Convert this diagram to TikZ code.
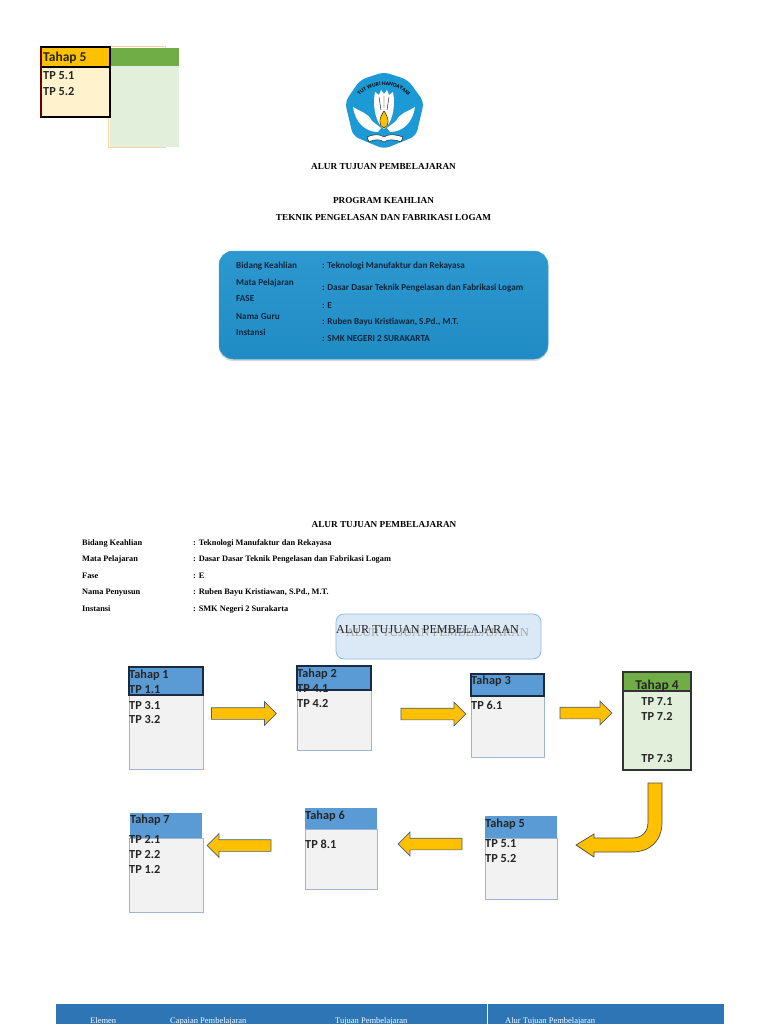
\documentclass[tikz,border=0pt]{standalone}
\usepackage{fontspec}
\setmainfont{Carlito}
\newfontfamily\serifface{Liberation Serif}
\usetikzlibrary{shapes.arrows,shadows,decorations.text}
\definecolor{headblue}{HTML}{5B9BD5}
\definecolor{headnavy}{HTML}{1B2A41}
\definecolor{bodygrey}{HTML}{F2F2F2}
\definecolor{bodyedge}{HTML}{9DB5D3}
\definecolor{headgreen}{HTML}{70AD47}
\definecolor{bodygreen}{HTML}{E2EFDA}
\definecolor{headgold}{HTML}{FFC000}
\definecolor{bodygold}{HTML}{FFF2CC}
\definecolor{arrowedge}{HTML}{4A5F7E}
\definecolor{panelblue}{HTML}{2293CE}
\definecolor{paneltext}{HTML}{10253A}
\definecolor{footblue}{HTML}{2E75B6}
\definecolor{logoblue}{HTML}{1C9AD6}
\begin{document}
\begin{tikzpicture}[x=1pt,y=-1pt, size/.style 2 args={minimum width=#1pt,minimum height=#2pt,inner sep=0pt,outer sep=0pt}, body/.style={draw=bodyedge,fill=bodygrey,line width=.9pt}, head/.style={fill=headblue}, headline/.style={head,draw=headnavy,line width=1.5pt}, tp/.style={anchor=west,inner sep=0pt,yshift=-.8pt,text height=10pt,text depth=2.2pt,font=\fontsize{12.3}{14}\selectfont\bfseries,text=black!85}, bigtp/.style={tp,font=\fontsize{13.5}{15}\selectfont\bfseries}, blockarrow/.style={single arrow,draw=arrowedge,fill=headgold,line width=.7pt,minimum width=23pt,single arrow head extend=6pt,inner xsep=0pt,inner ysep=5.5pt,outer sep=0pt}, title/.style={inner sep=0pt,yshift=-.8pt,font=\fontsize{9.2}{11}\selectfont\serifface\bfseries}, info/.style={anchor=west,inner sep=0pt,yshift=-.8pt,text height=7.5pt,text depth=2pt,font=\fontsize{8.33}{10}\selectfont\serifface\bfseries}, paneltxt/.style={anchor=west,inner sep=0pt,yshift=-.8pt,text height=8pt,text depth=2.2pt,text=paneltext,font=\fontsize{9.15}{11}\selectfont\bfseries}, foot/.style={anchor=west,inner sep=0pt,text=white,font=\fontsize{8.5}{10}\selectfont\serifface}]
\useasboundingbox (0,0) rectangle (768,1024);
% top left tables
\node[size={57}{101},draw=orange!35,line width=.7pt,anchor=north west] (back) at (108,46) {};
\node[size={69}{81},fill=bodygreen,anchor=north west] (greenbody) at (110,66) {};
\node[size={69}{18},fill=headgreen,anchor=north west] (greenhead) at (110,48) {};
\node[size={69}{50},fill=bodygold,draw=black,line width=1.5pt,anchor=north west] (goldbody) at (41,67) {};
\node[size={69}{20},fill=headgold,draw=black,line width=1.5pt,anchor=north west] (goldhead) at (41,47) {};
\draw[red!40!black,line width=1.5pt] (goldhead.north west) -- (goldbody.south west);
\node[bigtp] (goldtitle) at (43,57) {Tahap 5};
\node[tp] (gold1) at (43,75) {TP 5.1};
\node[tp] (gold2) at (43,91) {TP 5.2};
% logo
\fill[logoblue,rounded corners=6pt] (384,72) -- (408,80) -- (424,102) -- (416,136) -- (384,149) -- (353,136) -- (345,102) -- (360,80) -- cycle;
\fill[white] (384,129) .. controls (376,124) and (372,106) .. (375,92) -- (379,95) -- (381,90) -- (384,94) -- (387,90) -- (389,95) -- (393,92) .. controls (396,106) and (392,124) .. (384,129) -- cycle;
\fill[white] (353,107) .. controls (361,112) and (368,113) .. (372,121) -- (381,128) -- (378,132) .. controls (365,132) and (355,122) .. (353,107) -- cycle;
\fill[white] (415,107) .. controls (407,112) and (400,113) .. (396,121) -- (387,128) -- (390,132) .. controls (403,132) and (413,122) .. (415,107) -- cycle;
\draw[black,line width=.4pt] (384,96) -- (384,108) (379,97) -- (381,110) (389,97) -- (387,110);
\fill[headgold,draw=black,line width=.4pt] (384,111) .. controls (389,118) and (390,126) .. (384,128) .. controls (378,126) and (379,118) .. (384,111) -- cycle;
\fill[white,draw=black,line width=.4pt] (367,137) .. controls (374,134) and (380,134) .. (384,137) .. controls (388,134) and (394,134) .. (403,137) -- (401,142) .. controls (394,139) and (388,139) .. (384,142) .. controls (380,139) and (374,139) .. (369,142) -- cycle;
\path[decorate,decoration={text along path,text align=center,text={|\fontsize{5.6}{7}\selectfont\bfseries|TUT WURI HANDAYANI}}] (354,105) .. controls (364,79) and (404,79) .. (414,105);
% headings
\node[title] (maintitle) at (383.5,166) {ALUR TUJUAN PEMBELAJARAN};
\node[title] (program) at (383.5,200) {PROGRAM KEAHLIAN};
\node[title] (major) at (383.5,217) {TEKNIK PENGELASAN DAN FABRIKASI LOGAM};
% blue panel
\node[size={329}{108},rounded corners=14pt,top color=panelblue!95!white,bottom color=panelblue!95!black,draw=panelblue!90!white,line width=.5pt,drop shadow={opacity=.3,shadow xshift=0pt,shadow yshift=-2pt}] (panel) at (383.5,305) {};
\node[paneltxt] (p1) at (236,265) {Bidang Keahlian};
\node[paneltxt] (p2) at (236,282) {Mata Pelajaran};
\node[paneltxt] (p3) at (236,298) {FASE};
\node[paneltxt] (p4) at (236,316) {Nama Guru};
\node[paneltxt] (p5) at (236,332) {Instansi};
\node[paneltxt] (v1) at (322,265) {: Teknologi Manufaktur dan Rekayasa};
\node[paneltxt] (v2) at (322,287) {: Dasar Dasar Teknik Pengelasan dan Fabrikasi Logam};
\node[paneltxt] (v3) at (322,305) {: E};
\node[paneltxt] (v4) at (322,321) {: Ruben Bayu Kristiawan, S.Pd., M.T.};
\node[paneltxt] (v5) at (322,338) {: SMK NEGERI 2 SURAKARTA};
% info block
\node[title] (infotitle) at (384,524) {ALUR TUJUAN PEMBELAJARAN};
\node[info] (i1) at (82,542) {Bidang Keahlian};
\node[info] (i2) at (82,558) {Mata Pelajaran};
\node[info] (i3) at (82,575) {Fase};
\node[info] (i4) at (82,591) {Nama Penyusun};
\node[info] (i5) at (82,608) {Instansi};
\node[info] (d1) at (193,542) {: Teknologi Manufaktur dan Rekayasa};
\node[info] (d2) at (193,558) {: Dasar Dasar Teknik Pengelasan dan Fabrikasi Logam};
\node[info] (d3) at (193,575) {: E};
\node[info] (d4) at (193,591) {: Ruben Bayu Kristiawan, S.Pd., M.T.};
\node[info] (d5) at (193,608) {: SMK Negeri 2 Surakarta};
% banner
\node[size={205}{45},rounded corners=8pt,fill=headblue!22,draw=headblue!70,line width=.8pt] (banner) at (438.5,636.5) {};
\node[inner sep=0pt,text=black!35,font=\fontsize{12.2}{14}\selectfont\serifface] (bannershade) at (437.5,633) {ALUR TUJUAN PEMBELAJARAN};
\node[inner sep=0pt,text=black!85,font=\fontsize{12.2}{14}\selectfont\serifface] (bannertext) at (427.5,630) {ALUR TUJUAN PEMBELAJARAN};
% upper row
\node[body,size={74}{74},anchor=north west] (b1) at (129,695) {};
\node[headline,size={74}{28},anchor=north west] (h1) at (129,667) {};
\node[tp] (t1) at (129,674) {Tahap 1};
\node[tp] (t1a) at (129,689) {TP 1.1};
\node[tp] (t1b) at (129,705) {TP 3.1};
\node[tp] (t1c) at (129,719) {TP 3.2};
\node[body,size={74}{60},anchor=north west] (b2) at (297,690) {};
\node[headline,size={74}{24},anchor=north west] (h2) at (297,666) {};
\node[tp] (t2) at (297,673) {Tahap 2};
\node[tp] (t2a) at (297,688) {TP 4.1};
\node[tp] (t2b) at (297,703) {TP 4.2};
\node[body,size={73}{61},anchor=north west] (b3) at (471,696) {};
\node[headline,size={73}{22},anchor=north west] (h3) at (471,674) {};
\node[tp] (t3) at (471,680) {Tahap 3};
\node[tp] (t3a) at (471,705) {TP 6.1};
\node[size={68}{79},fill=bodygreen,draw=black!80,line width=1.2pt,anchor=north west] (b4) at (623,691) {};
\node[size={68}{19},fill=headgreen,draw=black!80,line width=1.2pt,anchor=north west] (h4) at (623,672) {};
\node[bigtp,anchor=center] (t4) at (657,685) {Tahap 4};
\node[tp,anchor=center] (t4a) at (657,701) {TP 7.1};
\node[tp,anchor=center] (t4b) at (657,716) {TP 7.2};
\node[tp,anchor=center] (t4c) at (657,758) {TP 7.3};
% lower row
\node[body,size={72}{61},anchor=north west] (b5) at (485,838) {};
\node[head,size={72}{22},anchor=north west] (h5) at (485,816) {};
\node[tp] (t5) at (485,823) {Tahap 5};
\node[tp] (t5a) at (485,843) {TP 5.1};
\node[tp] (t5b) at (485,858) {TP 5.2};
\node[body,size={72}{60},anchor=north west] (b6) at (305,829) {};
\node[head,size={72}{21},anchor=north west] (h6) at (305,808) {};
\node[tp] (t6) at (305,815) {Tahap 6};
\node[tp] (t6a) at (305,844) {TP 8.1};
\node[body,size={74}{74},anchor=north west] (b7) at (129,838) {};
\node[head,size={72}{25},anchor=north west] (h7) at (130,813) {};
\node[tp] (t7) at (130,819) {Tahap 7};
\node[tp] (t7a) at (129,839) {TP 2.1};
\node[tp] (t7b) at (129,854) {TP 2.2};
\node[tp] (t7c) at (129,869) {TP 1.2};
% arrows
\node[blockarrow,minimum height=65pt] (a1) at (241,713.5) {};
\node[blockarrow,minimum height=65pt] (a2) at (430.5,714) {};
\node[blockarrow,minimum height=52pt] (a3) at (583,713) {};
\node[blockarrow,minimum height=64pt,shape border rotate=180] (a5) at (433,844) {};
\node[blockarrow,minimum height=64pt,shape border rotate=180] (a6) at (242,845.5) {};
\draw[fill=headgold,draw=black!70,line width=.7pt] (648,783) -- (662,783) -- (662,822) .. controls (662,841) and (650,852) .. (632,852) -- (594,852) -- (594,857) -- (576,845) -- (594,834) -- (594,838) -- (632,838) .. controls (642,838) and (648,832) .. (648,822) -- cycle;
% footer
\node[size={668}{30},fill=footblue,anchor=north west] (footer) at (56,1004) {};
\draw[white,line width=.8pt] (487,1004) -- (487,1024);
\node[foot] (f1) at (90,1021) {Elemen};
\node[foot] (f2) at (170,1021) {Capaian Pembelajaran};
\node[foot] (f3) at (335,1021) {Tujuan Pembelajaran};
\node[foot] (f4) at (505,1021) {Alur Tujuan Pembelajaran};
\end{tikzpicture}
\end{document}
